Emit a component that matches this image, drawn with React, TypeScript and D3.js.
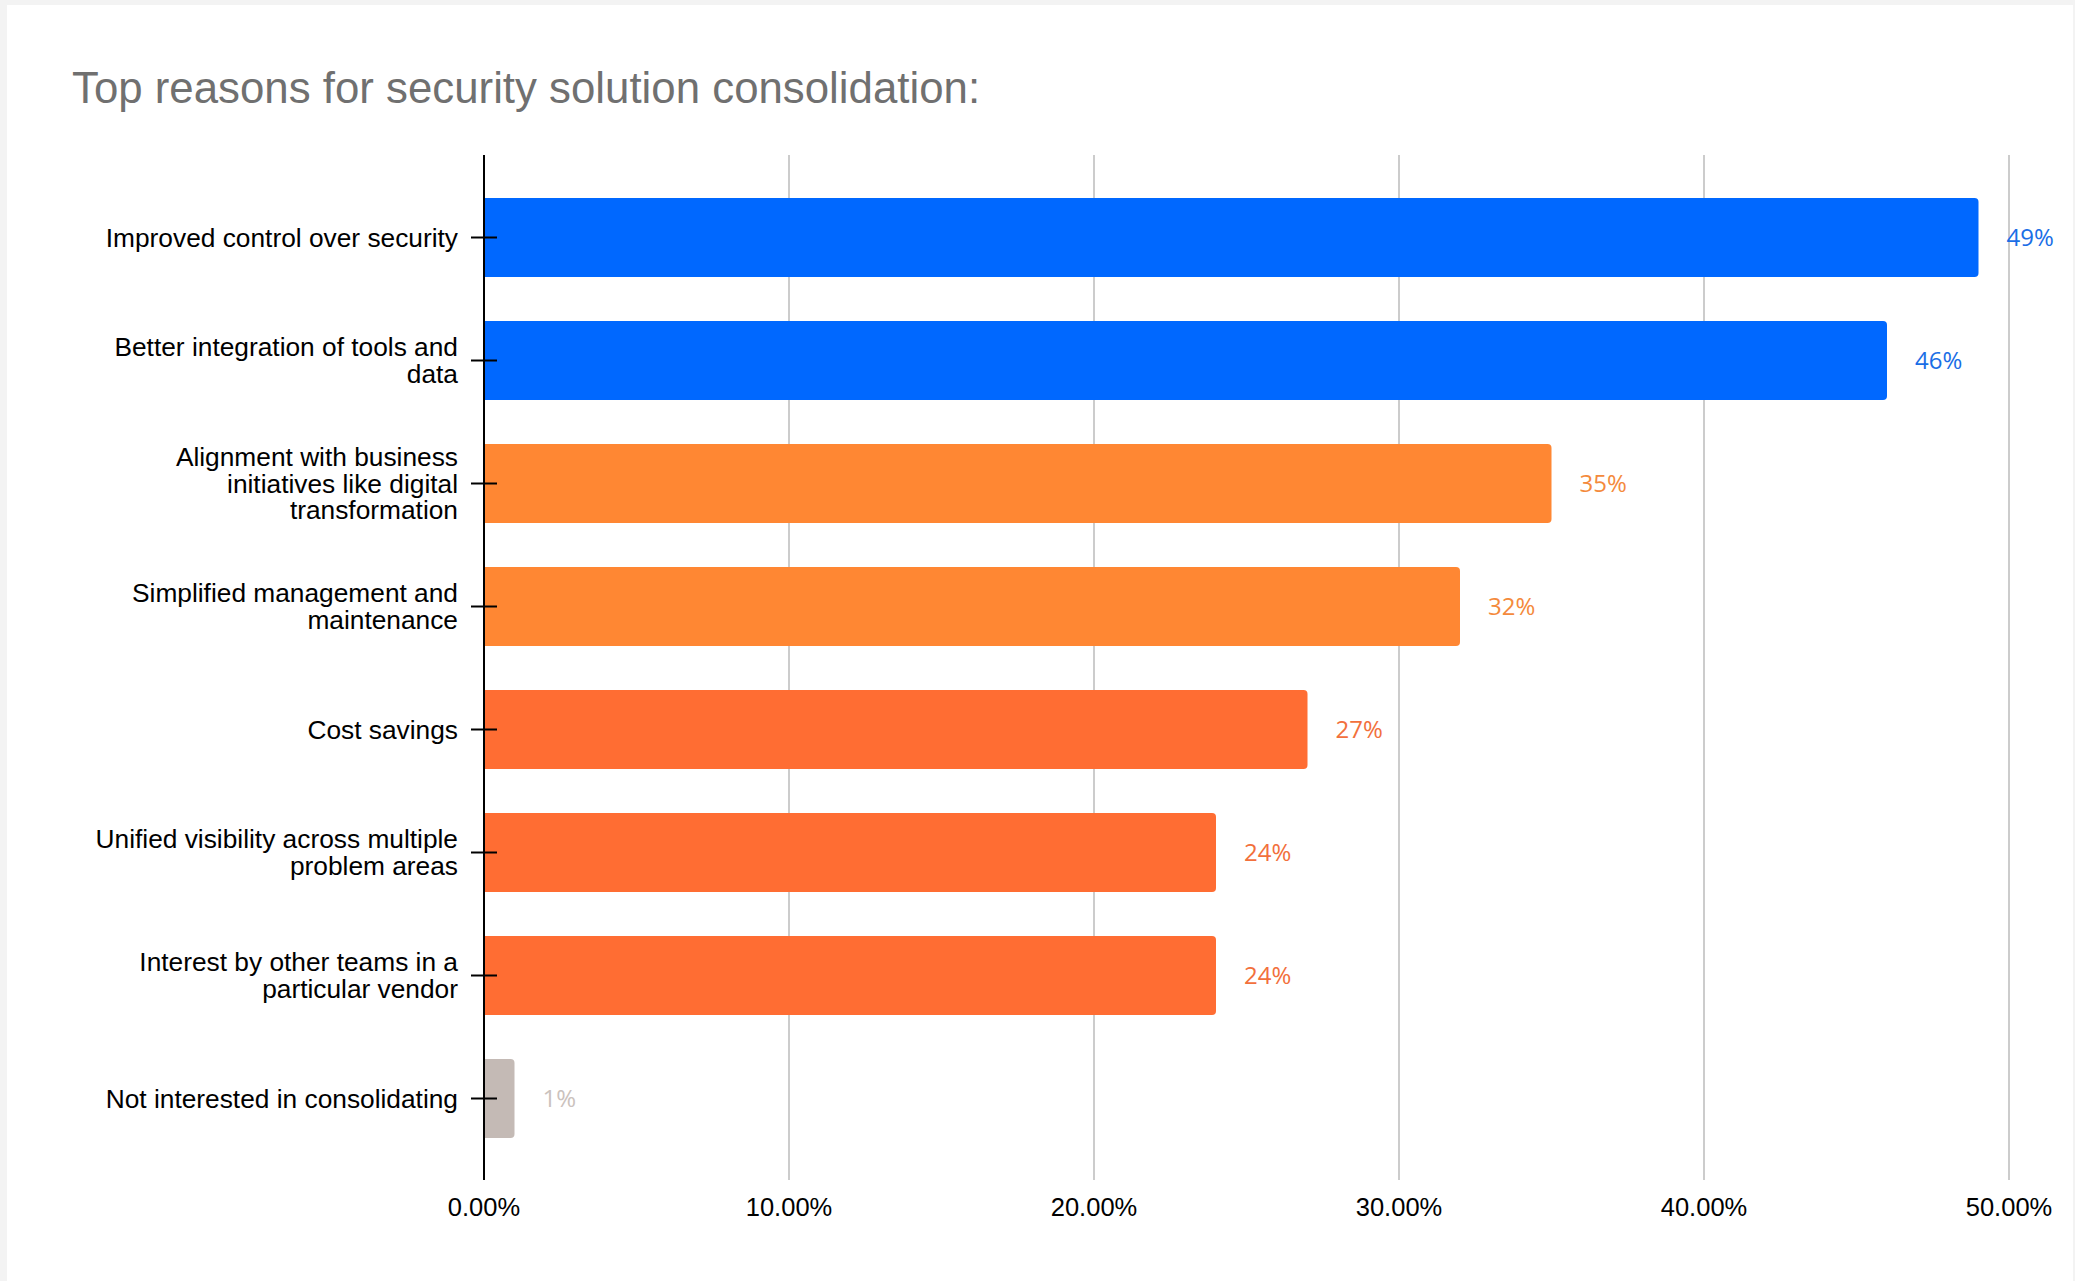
import React from "react";
import * as d3 from "d3";

const categories: string[] = [
  "Improved control over security",
  "Better integration of tools and\ndata",
  "Alignment with business\ninitiatives like digital\ntransformation",
  "Simplified management and\nmaintenance",
  "Cost savings",
  "Unified visibility across multiple\nproblem areas",
  "Interest by other teams in a\nparticular vendor",
  "Not interested in consolidating",
];
const values: number[] = [0.49, 0.46, 0.35, 0.32, 0.27, 0.24, 0.24, 0.01];
const valueLabels: string[] = ["49%", "46%", "35%", "32%", "27%", "24%", "24%", "1%"];
const barColors: string[] = ["#0068ff", "#0068ff", "#ff8733", "#ff8733", "#ff6d33", "#ff6d33", "#ff6d33", "#c4bab5"];
const labelColors: string[] = ["#1a6ee6", "#1a6ee6", "#f48a3c", "#f48a3c", "#f2703c", "#f2703c", "#f2703c", "#cbc2bd"];
const xTicks: number[] = [0, 0.1, 0.2, 0.3, 0.4, 0.5];
const title = "Top reasons for security solution consolidation:";

const W = 2075;
const H = 1281;

export default function App() {
  const x = d3.scaleLinear().domain([0, 0.5]).range([484, 2009]);
  const y = d3
    .scaleBand<string>()
    .domain(categories)
    .range([176, 1160])
    .paddingInner(0.358)
    .paddingOuter(0.179);
  const fmt = d3.format(".2%");
  const bw = y.bandwidth();
  const r = 4;

  const barPath = (x0: number, x1: number, y0: number, h: number) => {
    const rr = Math.min(r, (x1 - x0) / 2);
    return `M${x0},${y0}H${x1 - rr}Q${x1},${y0} ${x1},${y0 + rr}V${y0 + h - rr}Q${x1},${y0 + h} ${x1 - rr},${y0 + h}H${x0}Z`;
  };

  const sans = "'Liberation Sans', Arial, Helvetica, sans-serif";

  return (
    <div style={{ position: "absolute", left: 0, top: 0 }}>
      <svg width={W} height={H} style={{ display: "block" }}>
        <rect x={0} y={0} width={W} height={H} fill="#f3f3f3" />
        <rect x={7} y={5} width={2066} height={H - 5} fill="#ffffff" />
        <text x={72} y={103} fontFamily={sans} fontSize={43.8} fill="#707070">
          {title}
        </text>
        {xTicks.map((t) =>
          t === 0 ? null : (
            <line key={"g" + t} x1={x(t)} x2={x(t)} y1={155} y2={1180} stroke="#cccccc" strokeWidth={2} />
          )
        )}
        {categories.map((c, i) => {
          const y0 = y(c)!;
          return (
            <path key={"b" + i} d={barPath(x(0), x(values[i]), y0, bw)} fill={barColors[i]} />
          );
        })}
        <line x1={x(0)} x2={x(0)} y1={155} y2={1180} stroke="#000" strokeWidth={2} />
        {categories.map((c, i) => {
          const cy = y(c)! + bw / 2;
          const lines = c.split("\n");
          return (
            <g key={"c" + i}>
              <line x1={471} x2={497} y1={cy} y2={cy} stroke="#000" strokeWidth={2} />
              <text textAnchor="end" fontFamily={sans} fontSize={26.3} fill="#000">
                {lines.map((ln, j) => (
                  <tspan key={j} x={458} y={cy + (j - (lines.length - 1) / 2) * 26.5} dy="0.35em">
                    {ln}
                  </tspan>
                ))}
              </text>
              <text
                x={x(values[i]) + 28}
                y={cy}
                dy="0.35em"
                fontFamily="'Open Sans', 'Noto Sans', sans-serif"
                fontSize={24}
                fill={labelColors[i]}
              >
                {valueLabels[i]}
              </text>
            </g>
          );
        })}
        {xTicks.map((t) => (
          <text key={"t" + t} x={x(t)} y={1216} textAnchor="middle" fontFamily={sans} fontSize={25.5} fill="#000">
            {fmt(t)}
          </text>
        ))}
      </svg>
    </div>
  );
}
